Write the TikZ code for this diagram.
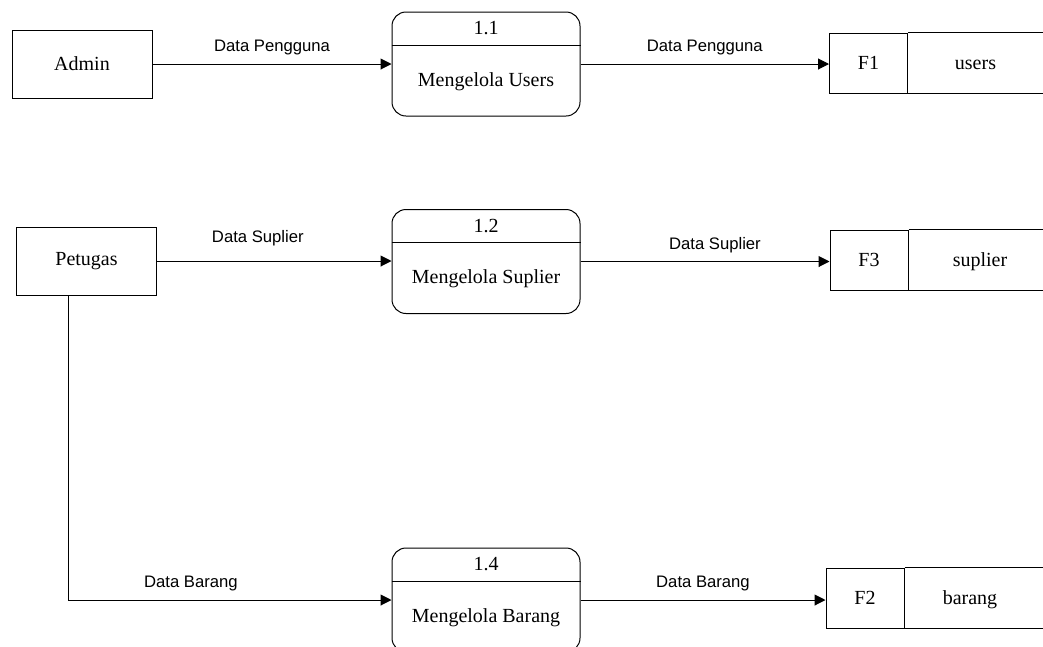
\documentclass[tikz,border=0pt]{standalone}
\usepackage{fontspec}
\setmainfont{Liberation Serif}
\setsansfont{Liberation Sans}
\usetikzlibrary{arrows.meta,positioning,calc}

\tikzset{
  entity/.style={draw, line width=0.6pt, minimum width=84pt, minimum height=40.8pt, font=\fontsize{12}{14}\selectfont},
  proc/.style={draw, line width=0.6pt, rounded corners=8.4pt, minimum width=112.8pt, minimum height=62.4pt},
  proctext/.style={font=\fontsize{12}{14}\selectfont},
  storeid/.style={draw, line width=0.6pt, minimum width=46.8pt, minimum height=36pt, font=\fontsize{12}{14}\selectfont},
  storename/.style={anchor=base, font=\fontsize{12}{14}\selectfont},
  flow/.style={line width=0.6pt, -{Triangle[length=6.5pt,width=6.5pt]}},
  flowlabel/.style={font=\sffamily\fontsize{10}{12}\selectfont, above, yshift=1.5pt}
}

\begin{document}
\begin{tikzpicture}[x=0.6pt, y=-0.6pt]
    \useasboundingbox (0,0) rectangle (1043,646);
    % external entities
    \node[entity] (admin) at (82,64) {Admin};
    \node[entity] (petugas) at (86.5,261) {Petugas};
    % process 1.1
    \node[proc] (p11) at (486,64) {};
    \draw[line width=0.6pt] ($(p11.north west)+(0,34)$) -- ($(p11.north east)+(0,34)$);
    \node[proctext] (p11num) at ($(p11.north)+(0,17)$) {1.1};
    \node[proctext] (p11name) at ($(p11.south)+(0,-35)$) {Mengelola Users};
    % process 1.2
    \node[proc] (p12) at (486,261.5) {};
    \draw[line width=0.6pt] ($(p12.north west)+(0,33)$) -- ($(p12.north east)+(0,33)$);
    \node[proctext] (p12num) at ($(p12.north)+(0,17)$) {1.2};
    \node[proctext] (p12name) at ($(p12.south)+(0,-35)$) {Mengelola Suplier};
    % process 1.4
    \node[proc] (p14) at (486,600) {};
    \draw[line width=0.6pt] ($(p14.north west)+(0,34)$) -- ($(p14.north east)+(0,34)$);
    \node[proctext] (p14num) at ($(p14.north)+(0,17)$) {1.4};
    \node[proctext] (p14name) at ($(p14.south)+(0,-35)$) {Mengelola Barang};
    % data store F1
    \node[storeid] (f1) at (868.5,63) {F1};
    \draw[line width=0.6pt] (f1.north east) -- ++(136,0);
    \draw[line width=0.6pt] (f1.south east) -- ++(136,0);
    \node[storename] (f1name) at ($(f1.base)+(107,0)$) {users};
    % data store F3
    \node[storeid] (f3) at (869,260) {F3};
    \draw[line width=0.6pt] (f3.north east) -- ++(135,0);
    \draw[line width=0.6pt] (f3.south east) -- ++(135,0);
    \node[storename] (f3name) at ($(f3.base)+(111,0)$) {suplier};
    % data store F2
    \node[storeid] (f2) at (865,598) {F2};
    \draw[line width=0.6pt] (f2.north east) -- ++(139,0);
    \draw[line width=0.6pt] (f2.south east) -- ++(139,0);
    \node[storename] (f2name) at ($(f2.base)+(105,0)$) {barang};
    % flows
    \draw[flow] (admin.east) -- node[flowlabel] {Data Pengguna} (p11.west);
    \draw[flow] (p11.east) -- node[flowlabel] {Data Pengguna} (p11.east -| f1.west);
    \draw[flow] (petugas.east) -- node[flowlabel, pos=0.43, yshift=4pt] {Data Suplier} (petugas.east -| p12.west);
    \draw[flow] (p12.east) -- node[flowlabel, pos=0.54] {Data Suplier} (p12.east -| f3.west);
    \coordinate (bend) at (68,600);
    \draw[flow] (petugas.south -| bend) -- (bend) -- node[flowlabel, pos=0.38] {Data Barang} (p14.west);
    \draw[flow] (p14.east) -- node[flowlabel] {Data Barang} (p14.east -| f2.west);
\end{tikzpicture}
\end{document}
